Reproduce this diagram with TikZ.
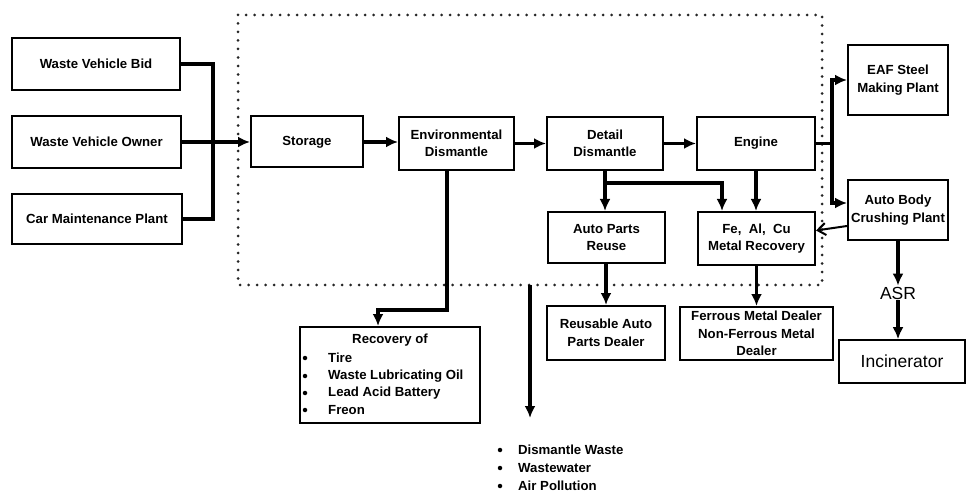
\documentclass[tikz,border=0pt]{standalone}
\usepackage{fontspec}
\setmainfont{Liberation Sans}
\usetikzlibrary{arrows.meta}
\begin{document}
\begin{tikzpicture}[x=1pt,y=-1pt,
  box/.style={draw, line width=2pt, fill=white, align=center, inner sep=2pt,
    font=\bfseries\fontsize{13.2}{17.5}\selectfont},
  lbl/.style={font=\bfseries\fontsize{13.2}{17.5}\selectfont, inner sep=0pt},
  bul/.style={circle, fill=black, inner sep=0pt, minimum size=4.5pt},
  conn/.style={line width=3.2pt},
  arr/.style={line width=3.2pt, -{Latex[length=12pt,width=11pt]}},
  frame/.style={line width=3pt, dash pattern=on 0pt off 8.5pt, line cap=round, black!85},
]
\useasboundingbox (0,0) rectangle (966,494);

% dotted frame
\draw[frame] (238,15) rectangle (822,285);

% left inputs
\node[box, minimum width=168pt, minimum height=52pt] (bid) at (96,64) {Waste Vehicle Bid};
\node[box, minimum width=169pt, minimum height=52pt] (owner) at (96.5,142) {Waste Vehicle Owner};
\node[box, minimum width=170pt, minimum height=50pt] (cmp) at (97,219) {Car Maintenance Plant};

% main chain
\node[box, minimum width=112pt, minimum height=51pt] (storage) at (307,142) {Storage};
\node[box, minimum width=115pt, minimum height=53pt] (env) at (456.5,143.5) {Environmental\\Dismantle};
\node[box, minimum width=116pt, minimum height=53pt] (detail) at (605,143.5) {Detail\\Dismantle};
\node[box, minimum width=118pt, minimum height=53pt] (engine) at (756,143.5) {Engine};

% right side
\node[box, minimum width=100pt, minimum height=70pt] (eaf) at (898,80) {EAF Steel\\Making Plant};
\node[box, minimum width=100pt, minimum height=60pt] (abc) at (898,210) {Auto Body\\Crushing Plant};

% second row
\node[box, minimum width=117pt, minimum height=51pt] (apr) at (606.5,237.5) {Auto Parts\\Reuse};
\node[box, minimum width=117pt, minimum height=53pt] (fe) at (756.5,238.5) {Fe,~~Al,~~Cu\\Metal Recovery};

% dealers
\node[box, minimum width=118pt, minimum height=54pt] (reusable) at (606,333) {Reusable Auto\\Parts Dealer};
\node[box, minimum width=153pt, minimum height=53pt, inner sep=1pt] (ferrous) at (756.5,333.5) {Ferrous Metal Dealer\\Non-Ferrous Metal\\Dealer};

% ASR and incinerator
\node[font=\fontsize{17.5}{20}\selectfont, inner sep=1pt] (asr) at (898,293) {ASR};
\node[draw, line width=1.6pt, minimum width=126pt, minimum height=43pt,
  font=\fontsize{17.5}{20}\selectfont] (inc) at (902,361.5) {Incinerator};

% recovery box
\node[draw, line width=2pt, minimum width=180pt, minimum height=96pt] (recovery) at (390,375) {};
\node[lbl] (rtitle) at (390,340) {Recovery of};
\node[bul] (rb1) at (305,358) {};
\node[bul] (rb2) at (305,376) {};
\node[bul] (rb3) at (305,393) {};
\node[bul] (rb4) at (305,410) {};
\node[lbl, anchor=west] (rt1) at (328,358) {Tire};
\node[lbl, anchor=west] (rt2) at (328,376) {Waste Lubricating Oil};
\node[lbl, anchor=west] (rt3) at (328,393) {Lead Acid Battery};
\node[lbl, anchor=west] (rt4) at (328,410) {Freon};

% emissions list
\node[bul] (eb1) at (500,450) {};
\node[bul] (eb2) at (500,468) {};
\node[bul] (eb3) at (500,486) {};
\node[lbl, anchor=west] (et1) at (518,450) {Dismantle Waste};
\node[lbl, anchor=west] (et2) at (518,468) {Wastewater};
\node[lbl, anchor=west] (et3) at (518,486) {Air Pollution};

% connectors: inputs
\coordinate (j1) at (213,142);
\draw[conn] (bid.east) -| (j1);
\draw[conn] (cmp.east) -| (j1);
\draw[arr] (owner.east) -- (storage.west);

% main chain
\draw[arr] (storage.east) -- (storage.east -| env.west);
\draw[arr] (env.east) -- (detail.west);
\draw[arr] (detail.east) -- (engine.west);

% engine to right plants
\coordinate (j2) at (832,143.5);
\draw[conn] (engine.east) -- (j2);
\draw[arr] (j2) |- (eaf.west);
\draw[arr] (j2) |- ([yshift=7pt]abc.west);

% detail dismantle branches
\coordinate (d1) at (605,183);
\draw[arr] (detail.south) -- (detail.south |- apr.north);
\draw[arr] (d1) -| ([xshift=-34.5pt]fe.north);
\draw[arr] (engine.south) -- (engine.south |- fe.north);

% auto body to metal recovery
\draw[line width=2pt, -{Straight Barb[length=8pt,width=12pt]}] ([yshift=-16pt]abc.west) -- ([yshift=8pt]fe.east);

% downward
\draw[arr] (apr.south -| reusable.north) -- (reusable.north);
\draw[arr] (fe.south) -- (ferrous.north);
\draw[arr] (abc.south) -- (asr.north);
\draw[arr] (asr.south) -- (asr.south |- inc.north);

% environmental dismantle to recovery
\coordinate (k1) at (447,310);
\draw[arr] (env.south -| k1) -- (k1) -| ([xshift=-12pt]recovery.north);

% emissions
\coordinate (e1) at (530,285);
\coordinate (e2) at (530,418);
\draw[arr] (e1) -- (e2);
\end{tikzpicture}
\end{document}
